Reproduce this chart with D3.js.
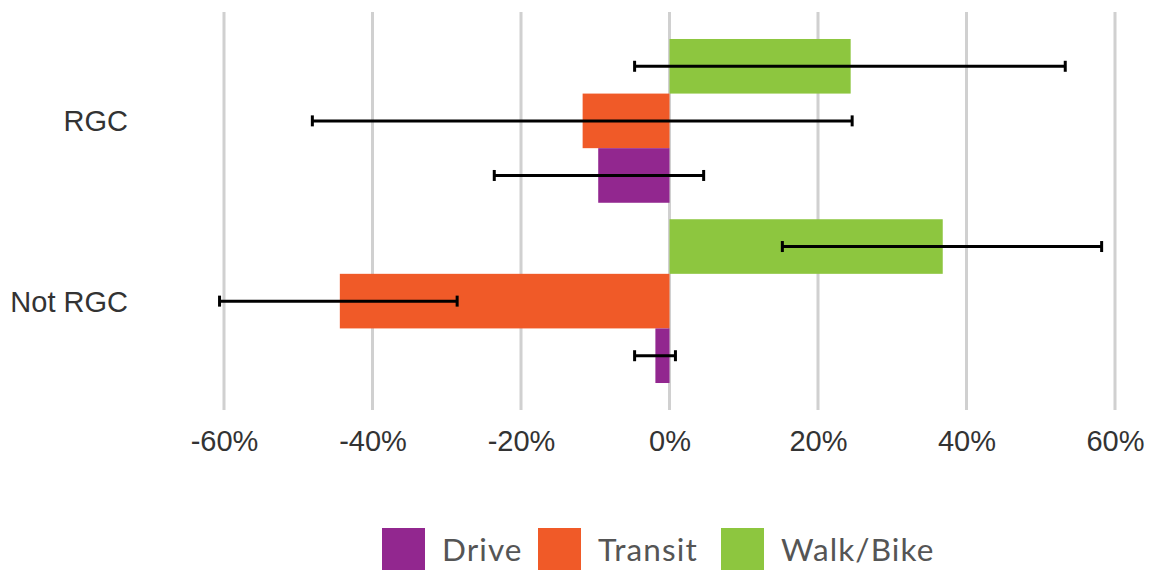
<!DOCTYPE html>
<html>
<head>
<meta charset="utf-8">
<script src="https://cdn.jsdelivr.net/npm/d3@7"></script>
<style>
  html, body { margin: 0; padding: 0; background: #fff; }
  svg { display: block; }
</style>
</head>
<body>
<svg id="chart" width="1151" height="570"></svg>
<script>
// Change in mode share by area type, with confidence intervals
const categories = ["RGC", "Not RGC"];
const modes = ["Walk/Bike", "Transit", "Drive"];          // top-to-bottom order within a group
const legendOrder = ["Drive", "Transit", "Walk/Bike"];
const modeColors = ["#8DC63F", "#F05A28", "#92278F"];

// values in percent, per category in the order of `modes`
const rgcValues    = [24.4, -11.7, -9.6];
const rgcLow       = [-4.7, -48.1, -23.6];
const rgcHigh      = [53.3, 24.6, 4.6];
const notRgcValues = [36.8, -44.4, -1.9];
const notRgcLow    = [15.2, -60.6, -4.7];
const notRgcHigh   = [58.2, -28.6, 0.8];

const tickValues = [-60, -40, -20, 0, 20, 40, 60];

const rows = [
  { cat: "RGC", values: rgcValues, low: rgcLow, high: rgcHigh },
  { cat: "Not RGC", values: notRgcValues, low: notRgcLow, high: notRgcHigh }
];

const svg = d3.select("#chart");
const color = d3.scaleOrdinal().domain(modes).range(modeColors);

const x = d3.scaleLinear().domain([-60, 60]).range([224, 1115]);
const y0 = d3.scaleBand().domain(categories).range([30.75, 391.25])
  .paddingInner(0.0914).paddingOuter(0.0457);
const y1 = d3.scaleBand().domain(modes).range([0, y0.bandwidth()]);

const labelFont = "'Liberation Sans', Arial, sans-serif";

// vertical gridlines
svg.append("g")
  .selectAll("line")
  .data(tickValues)
  .join("line")
  .attr("x1", d => x(d)).attr("x2", d => x(d))
  .attr("y1", 12).attr("y2", 410)
  .attr("stroke", "#d0d0d0")
  .attr("stroke-width", 3);

// x-axis tick labels
const xAxis = d3.axisBottom(x)
  .tickValues(tickValues)
  .tickSize(0)
  .tickPadding(0)
  .tickFormat(d => d + "%");
const gx = svg.append("g").attr("transform", "translate(0,451)").call(xAxis);
gx.select(".domain").remove();
gx.selectAll("text")
  .attr("y", 0)
  .attr("dy", 0)
  .attr("font-family", labelFont)
  .attr("font-size", 29)
  .attr("fill", "#333");

// category labels
const yAxis = d3.axisLeft(y0).tickSize(0).tickPadding(0);
const gy = svg.append("g").attr("transform", "translate(128,0)").call(yAxis);
gy.select(".domain").remove();
gy.selectAll("text")
  .attr("dy", "0.36em")
  .attr("font-family", labelFont)
  .attr("font-size", 29)
  .attr("fill", "#333");

// bars and error bars
const groups = svg.append("g")
  .selectAll("g")
  .data(rows)
  .join("g")
  .attr("transform", d => `translate(0,${y0(d.cat)})`);

const items = groups.selectAll("g.item")
  .data(d => modes.map((m, i) => ({ mode: m, v: d.values[i], lo: d.low[i], hi: d.high[i] })))
  .join("g").attr("class", "item");

items.append("rect")
  .attr("x", d => x(Math.min(0, d.v)))
  .attr("width", d => Math.abs(x(d.v) - x(0)))
  .attr("y", d => y1(d.mode))
  .attr("height", y1.bandwidth())
  .attr("fill", d => color(d.mode));

const cy = d => y1(d.mode) + y1.bandwidth() / 2;
items.append("line")
  .attr("x1", d => x(d.lo)).attr("x2", d => x(d.hi))
  .attr("y1", cy).attr("y2", cy)
  .attr("stroke", "#000").attr("stroke-width", 3);
items.append("line")
  .attr("x1", d => x(d.lo)).attr("x2", d => x(d.lo))
  .attr("y1", d => cy(d) - 5.5).attr("y2", d => cy(d) + 5.5)
  .attr("stroke", "#000").attr("stroke-width", 3);
items.append("line")
  .attr("x1", d => x(d.hi)).attr("x2", d => x(d.hi))
  .attr("y1", d => cy(d) - 5.5).attr("y2", d => cy(d) + 5.5)
  .attr("stroke", "#000").attr("stroke-width", 3);

// legend
const legendX = [382, 538, 721];
const legend = svg.append("g")
  .selectAll("g")
  .data(legendOrder)
  .join("g")
  .attr("transform", (d, i) => `translate(${legendX[i]},528)`);
legend.append("rect")
  .attr("width", 43).attr("height", 42)
  .attr("fill", d => color(d));
legend.append("text")
  .attr("x", 60).attr("y", 33)
  .attr("font-family", "Lato, 'Open Sans', sans-serif")
  .attr("font-size", 31.5)
  .attr("letter-spacing", 1.1)
  .attr("fill", "#555")
  .text(d => d);
</script>
</body>
</html>
